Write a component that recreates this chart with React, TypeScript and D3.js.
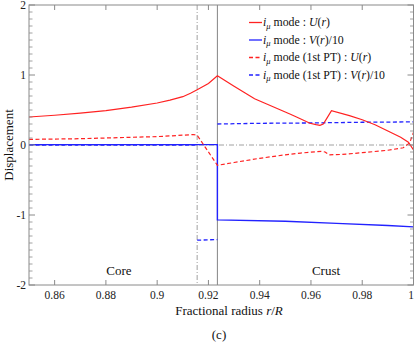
import React from "react";
import * as d3 from "d3";

// ---- data ----
const xTicks = [0.86, 0.88, 0.9, 0.92, 0.94, 0.96, 0.98, 1.0];
const xTickLabels = ["0.86", "0.88", "0.9", "0.92", "0.94", "0.96", "0.98", "1"];
const yTicks = [-2, -1, 0, 1, 2];
const yTickLabels = ["-2", "-1", "0", "1", "2"];

const rInterface1 = 0.9156; // dash-dot line
const rInterface2 = 0.9235; // core/crust interface

// i_mu mode U(r)
const uR = [0.85, 0.86, 0.87, 0.88, 0.89, 0.9, 0.905, 0.91, 0.913, 0.9156, 0.92, 0.9235, 0.93, 0.938, 0.945, 0.952, 0.955, 0.9596, 0.962, 0.9635, 0.9648, 0.966, 0.968, 0.975, 0.98, 0.985, 0.99, 0.995, 0.998, 1.0];
const uVal = [0.40, 0.425, 0.455, 0.49, 0.54, 0.60, 0.64, 0.69, 0.74, 0.79, 0.88, 0.99, 0.84, 0.66, 0.55, 0.44, 0.39, 0.31, 0.29, 0.28, 0.30, 0.37, 0.49, 0.42, 0.36, 0.29, 0.20, 0.11, 0.04, -0.07];

// i_mu mode V(r)/10
const vR = [0.85, 0.9235, 0.9235, 0.95, 0.97, 0.99, 1.0];
const vVal = [0.005, 0.005, -1.07, -1.09, -1.12, -1.15, -1.17];

// i_mu mode (1st PT) U(r)
const u1R = [0.85, 0.87, 0.89, 0.9, 0.91, 0.914, 0.9156, 0.9235, 0.93, 0.94, 0.95, 0.956, 0.9642, 0.9655, 0.967, 0.972, 0.98, 0.99, 0.996, 0.9985, 1.0];
const u1Val = [0.08, 0.09, 0.11, 0.12, 0.14, 0.15, 0.14, -0.29, -0.25, -0.19, -0.14, -0.115, -0.09, -0.10, -0.14, -0.135, -0.11, -0.075, -0.04, 0.03, 0.18];

// i_mu mode (1st PT) V(r)/10  (null = gap)
const v1R = [0.85, 0.9156, 0.9156, 0.9156, 0.9235, 0.9235, 0.9235, 0.94, 0.96, 0.98, 1.0];
const v1Val: (number | null)[] = [0.0, 0.0, null, -1.36, -1.35, null, 0.30, 0.31, 0.315, 0.325, 0.33];

const RED = "#ff2222";
const BLUE = "#2222ff";

const W = 415, H = 345;
const L = 29, T = 5, R = 413.5, B = 285;

export default function App() {
  const x = d3.scaleLinear().domain([0.85, 1.0]).range([L, R]);
  const y = d3.scaleLinear().domain([-2, 2]).range([B, T]);

  const mk = (rs: number[], vs: (number | null)[]) =>
    d3
      .line<[number, number | null]>()
      .defined((d) => d[1] !== null)
      .x((d) => x(d[0]))
      .y((d) => y(d[1] as number))(rs.map((r, i) => [r, vs[i]]) as [number, number | null][]) || "";

  const minorY = d3.range(-20, 21).map((k) => k / 10).filter((v) => Math.abs(v - Math.round(v)) > 1e-6);

  const frame = "#8a8a8a";
  const font = "'Liberation Serif', serif";

  const legend = [
    { color: RED, dash: undefined, pt: false, sym: "U", tail: ")" },
    { color: BLUE, dash: undefined, pt: false, sym: "V", tail: ")/10" },
    { color: RED, dash: "4,2.5", pt: true, sym: "U", tail: ")" },
    { color: BLUE, dash: "4,2.5", pt: true, sym: "V", tail: ")/10" },
  ];

  return (
    <div style={{ position: "fixed", left: 0, top: 0 }}>
      <svg width={W} height={H} style={{ display: "block", background: "#fff", fontFamily: font }}>
        <defs>
          <clipPath id="plot">
            <rect x={L} y={T} width={R - L} height={B - T} />
          </clipPath>
        </defs>

        {/* reference lines */}
        <line x1={L} x2={R} y1={y(0)} y2={y(0)} stroke="#888" strokeWidth={0.8} strokeDasharray="5,2,1,2" />
        <line x1={x(rInterface1)} x2={x(rInterface1)} y1={T} y2={B} stroke="#888" strokeWidth={0.8} strokeDasharray="5,2,1,2" />
        <line x1={x(rInterface2)} x2={x(rInterface2)} y1={T} y2={B} stroke="#777" strokeWidth={0.9} />

        {/* series */}
        <g clipPath="url(#plot)" fill="none">
          <path d={mk(v1R, v1Val)} stroke={BLUE} strokeWidth={1.3} strokeDasharray="4,2.5" />
          <path d={mk(vR, vVal)} stroke={BLUE} strokeWidth={1.4} />
          <path d={mk(u1R, u1Val)} stroke={RED} strokeWidth={1.2} strokeDasharray="4,2.5" />
          <path d={mk(uR, uVal)} stroke={RED} strokeWidth={1.2} />
        </g>

        {/* frame */}
        <rect x={L} y={T} width={R - L} height={B - T} fill="none" stroke={frame} strokeWidth={1} />

        {/* y ticks */}
        {yTicks.map((v) => (
          <g key={"ym" + v}>
            <line x1={L} x2={L + 6} y1={y(v)} y2={y(v)} stroke={frame} />
            <line x1={R} x2={R - 6} y1={y(v)} y2={y(v)} stroke={frame} />
          </g>
        ))}
        {minorY.map((v) => (
          <g key={"yn" + v}>
            <line x1={L} x2={L + 3.5} y1={y(v)} y2={y(v)} stroke={frame} strokeWidth={0.8} />
            <line x1={R} x2={R - 3.5} y1={y(v)} y2={y(v)} stroke={frame} strokeWidth={0.8} />
          </g>
        ))}
        {yTicks.map((v, i) => (
          <text key={"yl" + v} x={L - 3} y={y(v)} dy="0.35em" textAnchor="end" fontSize={11.5} fill="#222">
            {yTickLabels[i]}
          </text>
        ))}

        {/* x ticks */}
        {xTicks.map((v, i) => (
          <g key={"x" + v}>
            <line x1={x(v)} x2={x(v)} y1={B} y2={B - 5} stroke={frame} />
            <line x1={x(v)} x2={x(v)} y1={T} y2={T + 5} stroke={frame} />
            <text x={Math.min(x(v), W - 4)} y={B + 14} textAnchor="middle" fontSize={11.5} fill="#222">
              {xTickLabels[i]}
            </text>
          </g>
        ))}

        {/* region labels */}
        <text x={119} y={275} textAnchor="middle" fontSize={13} fill="#111">Core</text>
        <text x={326} y={275} textAnchor="middle" fontSize={13} fill="#111">Crust</text>

        {/* axis titles */}
        <text transform={`translate(13,${(T + B) / 2}) rotate(-90)`} textAnchor="middle" fontSize={13} fill="#111">
          Displacement
        </text>
        <text x={229} y={315} textAnchor="middle" fontSize={13} fill="#111">
          Fractional radius <tspan fontStyle="italic">r</tspan>/<tspan fontStyle="italic">R</tspan>
        </text>
        <text x={219} y={339} textAnchor="middle" fontSize={13} fill="#111">(c)</text>

        {/* legend */}
        {legend.map((d, i) => {
          const ly = 22.5 + i * 17.5;
          return (
            <g key={"lg" + i}>
              <line x1={249} x2={262} y1={ly} y2={ly} stroke={d.color} strokeWidth={1.3} strokeDasharray={d.dash} />
              <text x={263} y={ly} dy="0.33em" fontSize={11.8} fill="#111">
                <tspan fontStyle="italic">i</tspan>
                <tspan fontSize={8.5} dy={2.5} fontStyle="italic">μ</tspan>
                <tspan dy={-2.5}>{" mode"}{d.pt ? " (1st PT)" : ""}{" : "}</tspan>
                <tspan fontStyle="italic">{d.sym}</tspan>
                <tspan>(</tspan>
                <tspan fontStyle="italic">r</tspan>
                <tspan>{d.tail}</tspan>
              </text>
            </g>
          );
        })}
      </svg>
    </div>
  );
}
